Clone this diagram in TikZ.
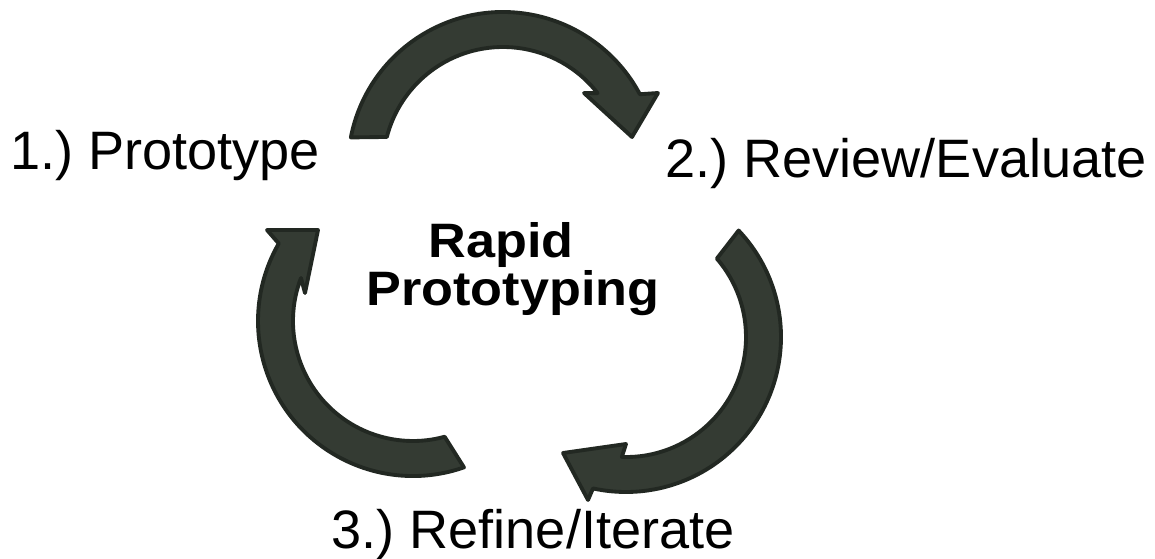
\documentclass[tikz,border=0pt]{standalone}
\usepackage{fontspec}
\setmainfont{Liberation Sans}
\usepackage{graphicx}
\usetikzlibrary{calc}
\definecolor{arrowfill}{HTML}{343B33}
\definecolor{arrowline}{HTML}{222822}
\frenchspacing

\begin{document}
\begin{tikzpicture}[x=0.02cm, y=0.02cm,
		cyclearrow/.style={fill=arrowfill, draw=arrowline, line width=2.2pt, line join=round},
		steplabel/.style={anchor=base, inner sep=0pt, font=\fontsize{30.8}{37}\selectfont},
		titlelabel/.style={anchor=base, inner sep=0pt, font=\fontsize{27.5}{33}\selectfont\bfseries}]
			\useasboundingbox (0,0) rectangle (1155,-558);
			\coordinate (ctop) at (503,-167);
			\coordinate (cright) at (626,-337);
			\coordinate (cleft) at (413,-321);
			% prototype -> review
			\draw[cyclearrow] ($(ctop)+(169:155)$) arc[start angle=169, end angle=28, radius=155]
				-- (658,-93) -- (632,-137) -- (584,-93)
				-- ($(ctop)+(38:120)$) arc[start angle=38, end angle=165.5, radius=120] -- cycle;
			% review -> refine
			\draw[cyclearrow] ($(cright)+(43.4:155)$) arc[start angle=43.4, end angle=-102.3, radius=155]
				-- (588,-500) -- (563,-453) -- (626,-444)
				-- ($(cright)+(-92:120)$) arc[start angle=-92, end angle=40.8, radius=120] -- cycle;
			% refine -> prototype
			\draw[cyclearrow] ($(cleft)+(-70.8:155)$) arc[start angle=-70.8, end angle=-210, radius=155]
				-- (267,-230) -- (318,-230) -- (305,-293)
				-- ($(cleft)+(-201:120)$) arc[start angle=-201, end angle=-74.7, radius=120] -- cycle;
			\node[steplabel] (prototype) at (165,-169) {1.) Prototype};
			\node[steplabel] (review) at (906,-177) {2.) Review/Evaluate};
			\node[steplabel] (refine) at (533,-548) {3.) Refine/Iterate};
			\node[titlelabel] (rapid) at (501,-257) {\scalebox{1.08}[1]{Rapid}};
			\node[titlelabel] (prototyping) at (513,-305) {\scalebox{1.08}[1]{Prototyping}};
		\end{tikzpicture}
\end{document}
